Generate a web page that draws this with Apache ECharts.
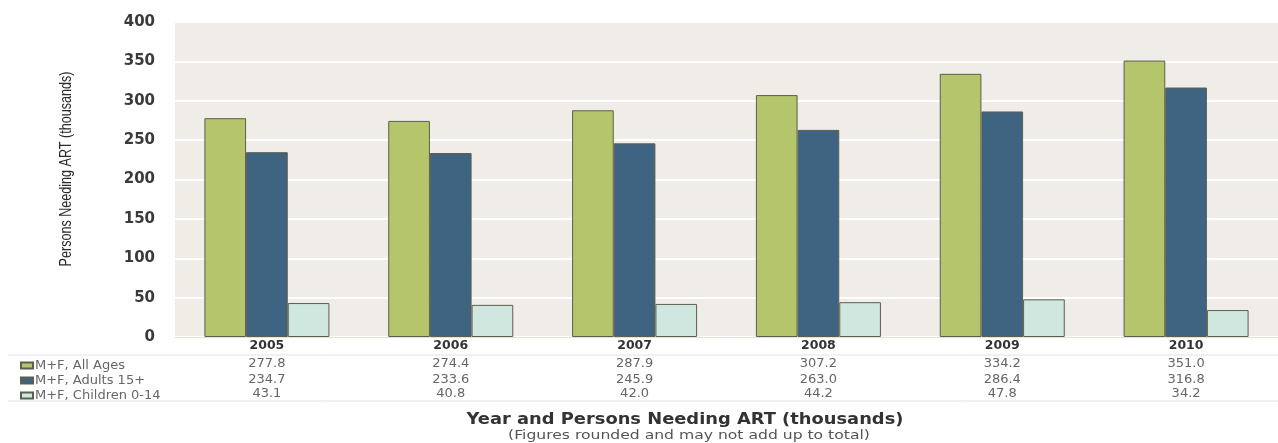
<!DOCTYPE html>
<html>
<head>
<meta charset="utf-8">
<script src="https://cdn.jsdelivr.net/npm/echarts@6/dist/echarts.min.js"></script>
<style>html,body{margin:0;padding:0;background:#fff}#c{width:1278px;height:443px}</style>
</head>
<body>
<div id="c"></div>
<script>
const years = ['2005','2006','2007','2008','2009','2010'];
const allAges = [277.8, 274.4, 287.9, 307.2, 334.2, 351.0];
const adults = [234.7, 233.6, 245.9, 263.0, 286.4, 316.8];
const children = [43.1, 40.8, 42.0, 44.2, 47.8, 34.2];
const seriesNames = ['M+F, All Ages', 'M+F, Adults 15+', 'M+F, Children 0-14'];
const yTicks = [0, 50, 100, 150, 200, 250, 300, 350, 400];
const colors = ['#b5c56c', '#3f6482', '#cfe7df'];
const yAxisTitle = 'Persons Needing ART (thousands)';
const xAxisTitle = 'Year and Persons Needing ART (thousands)';
const xAxisSub = '(Figures rounded and may not add up to total)';

const chart = echarts.init(document.getElementById('c'));
const wide = 'DejaVu Sans, Verdana, sans-serif';
function rowAxis(vals, offset) {
  return {
    type: 'category', data: years, position: 'bottom', offset: offset,
    axisLine: {show: false}, axisTick: {show: false}, splitLine: {show: false},
    axisLabel: {margin: 2, fontSize: 13, color: '#666', fontFamily: wide,
      formatter: (v, i) => vals[i].toFixed(1)}
  };
}
chart.setOption({
  animation: false,
  backgroundColor: '#ffffff',
  textStyle: {fontFamily: wide},
  grid: {left: 175, right: 0, top: 22, bottom: 106, show: true, backgroundColor: '#f0ede8', borderWidth: 0},
  legend: {
    data: seriesNames, orient: 'vertical', left: 15, top: 354, itemGap: 2,
    itemWidth: 12, itemHeight: 6, textStyle: {fontSize: 13, color: '#666', fontFamily: wide, padding: [0,0,0,-3]},
    icon: 'rect'
  },
  xAxis: [
    {type: 'category', data: years,
     axisLine: {show: true, lineStyle: {color: '#e4e0da'}}, axisTick: {show: false},
     axisLabel: {margin: 2, fontSize: 12.5, fontWeight: 'bold', color: '#333', fontFamily: wide}},
    rowAxis(allAges, 18), rowAxis(adults, 34), rowAxis(children, 48)
  ],
  yAxis: {
    type: 'value', min: 0, max: 400, interval: 50,
    axisLine: {show: false}, axisTick: {show: false},
    axisLabel: {margin: 20, fontSize: 15, fontWeight: 'bold', color: '#3a3a3a', fontFamily: wide,
      formatter: v => yTicks.includes(v) ? String(v) : ''},
    splitLine: {lineStyle: {color: '#ffffff', width: 2}}
  },
  series: [allAges, adults, children].map((d, i) => ({
    name: seriesNames[i], type: 'bar', data: d, barGap: '0%', barCategoryGap: '32%',
    itemStyle: {color: colors[i], borderColor: '#5c5e4f', borderWidth: 1}
  })),
  graphic: [
    {type: 'line', shape: {x1: 8, y1: 355, x2: 1278, y2: 355}, style: {stroke: '#e2e2e2', lineWidth: 1}},
    {type: 'line', shape: {x1: 8, y1: 401, x2: 1278, y2: 401}, style: {stroke: '#e2e2e2', lineWidth: 1}},
    {type: 'text', x: 66, y: 169, rotation: Math.PI / 2, scaleX: 0.74,
      style: {text: yAxisTitle, textAlign: 'center', textVerticalAlign: 'middle',
      font: '17px Liberation Sans, Arial, sans-serif', fill: '#2a2a2a'}},
    {type: 'text', x: 685, y: 420, scaleX: 1.19, style: {text: xAxisTitle, textAlign: 'center', textVerticalAlign: 'middle',
      font: 'bold 15px DejaVu Sans, Verdana, sans-serif', fill: '#333'}},
    {type: 'text', x: 689, y: 436, scaleX: 1.3, style: {text: xAxisSub, textAlign: 'center', textVerticalAlign: 'middle',
      font: '12px DejaVu Sans, Verdana, sans-serif', fill: '#555'}}
  ]
});
</script>
</body>
</html>
